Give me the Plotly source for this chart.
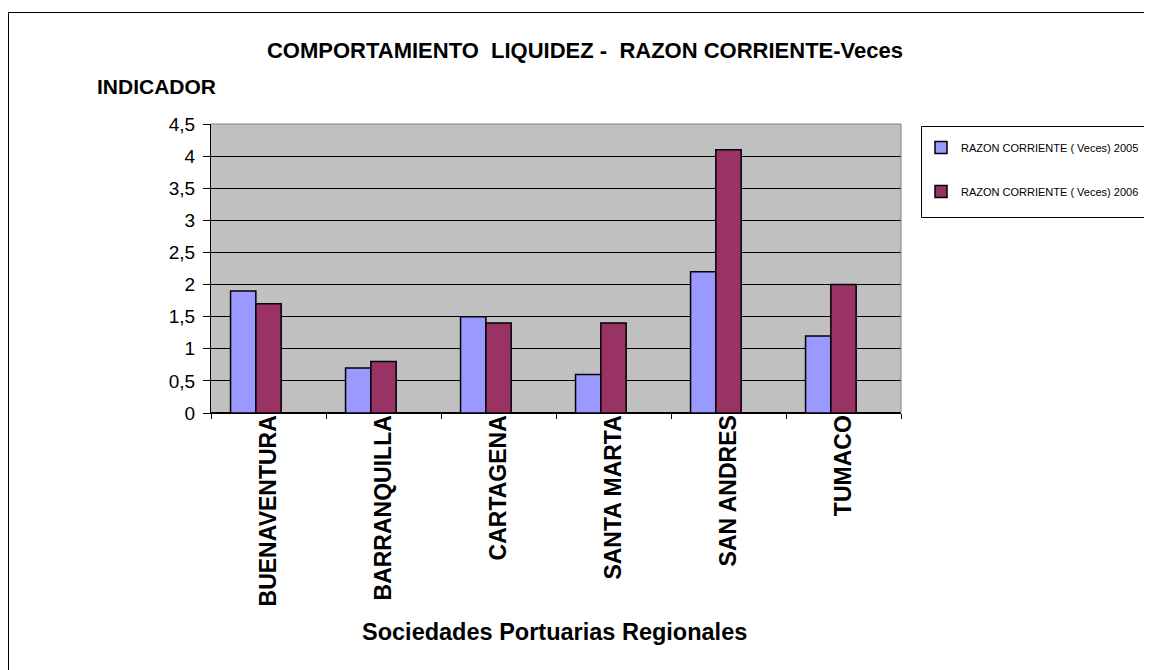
import plotly.graph_objects as go

categories = ["BUENAVENTURA", "BARRANQUILLA", "CARTAGENA", "SANTA MARTA", "SAN ANDRES", "TUMACO"]
values_2005 = [1.9, 0.7, 1.5, 0.6, 2.2, 1.2]
values_2006 = [1.7, 0.8, 1.4, 1.4, 4.1, 2.0]
series_names = ["RAZON CORRIENTE ( Veces) 2005", "RAZON CORRIENTE ( Veces) 2006"]
y_ticks = [0, 0.5, 1, 1.5, 2, 2.5, 3, 3.5, 4, 4.5]

# the page body adds an 8px offset; the figure is sized to fill the rest of the window
OFF = 8
W, H = 1152 - OFF, 670 - OFF
# plot area in page coordinates: x 211..901, y 124..413
PL, PR, PT, PB = 211, 901, 124, 413
L, R, T, B = PL - OFF, W - (PR - OFF), PT - OFF, H - (PB - OFF)
pw, ph = PR - PL, PB - PT

def px(x):
    return (x - PL) / pw

def py(y):
    return (PB - y) / ph

FONT = "Liberation Sans, Arial, sans-serif"

fig = go.Figure()
fig.add_trace(go.Bar(
    x=categories, y=values_2005, name=series_names[0], legendgroup="a",
    marker=dict(color="#9999FF", line=dict(color="black", width=1.5)),
    width=0.22, offset=-0.33,
))
fig.add_trace(go.Bar(
    x=categories, y=values_2006, name=series_names[1], legendgroup="b",
    marker=dict(color="#993366", line=dict(color="black", width=1.5)),
    width=0.22, offset=-0.11,
))

fig.update_layout(
    width=W, height=H,
    margin=dict(l=L, r=R, t=T, b=B, autoexpand=False),
    paper_bgcolor="white", plot_bgcolor="#C0C0C0",
    separators=",.",
    font=dict(family=FONT, color="black"),
    title=dict(text="<b>COMPORTAMIENTO&nbsp; LIQUIDEZ -&nbsp; RAZON CORRIENTE-Veces</b>",
               x=(585 - OFF) / W, xanchor="center", y=1 - (50 - OFF) / H, yanchor="middle",
               font=dict(size=22, family=FONT)),
    showlegend=True,
    legend=dict(x=px(921), xanchor="left", y=py(133), yanchor="top",
                borderwidth=0, bgcolor="rgba(0,0,0,0)",
                font=dict(size=11, family=FONT), traceorder="grouped",
                tracegroupgap=25),
    bargap=0.5,
)
fig.update_xaxes(
    type="category", showline=True, linecolor="black", linewidth=1,
    ticks="outside", tickson="boundaries", ticklen=5, tickcolor="black",
    tickangle=-90, tickfont=dict(size=23, family=FONT), ticklabelstandoff=-8,
    automargin=False, showgrid=False,
    tickvals=categories, ticktext=["<b>%s</b>" % c for c in categories],
)
fig.update_yaxes(
    range=[0, 4.5], tickvals=y_ticks, showline=True, linecolor="black", linewidth=1,
    ticks="outside", ticklen=7, tickcolor="black", ticklabelstandoff=4,
    showgrid=True, gridcolor="black", gridwidth=1,
    zeroline=True, zerolinecolor="black",
    tickfont=dict(size=19, family=FONT), automargin=False,
)

# plot-area border (top and right)
fig.add_shape(type="line", xref="paper", yref="paper", x0=0, x1=1, y0=1, y1=1,
              line=dict(color="#808080", width=1))
fig.add_shape(type="line", xref="paper", yref="paper", x0=1, x1=1, y0=0, y1=1,
              line=dict(color="#808080", width=1))
# legend box (open on the right, cut by the frame edge)
for x0, x1, y0, y1 in [(921.5, 1300, 126.5, 126.5), (921.5, 1300, 217.5, 217.5),
                       (921.5, 921.5, 126.5, 217.5)]:
    fig.add_shape(type="line", xref="paper", yref="paper",
                  x0=px(x0), x1=px(x1), y0=py(y0), y1=py(y1),
                  line=dict(color="black", width=1))
# outer chart frame (left and top edges visible)
for x0, x1, y0, y1 in [(8.5, 1300, 12.5, 12.5), (8.5, 8.5, 12.5, 800)]:
    fig.add_shape(type="line", xref="paper", yref="paper",
                  x0=px(x0), x1=px(x1), y0=py(y0), y1=py(y1),
                  line=dict(color="black", width=1))

fig.add_annotation(text="<b>INDICADOR</b>", xref="paper", yref="paper",
                   x=px(95), xanchor="left", y=py(86), yanchor="middle",
                   showarrow=False, font=dict(size=21, family=FONT))
fig.add_annotation(text="<b>Sociedades Portuarias Regionales</b>", xref="paper", yref="paper",
                   x=px(554), xanchor="center", y=py(632), yanchor="middle",
                   showarrow=False, font=dict(size=23.5, family=FONT))

fig.write_html("out.html")
